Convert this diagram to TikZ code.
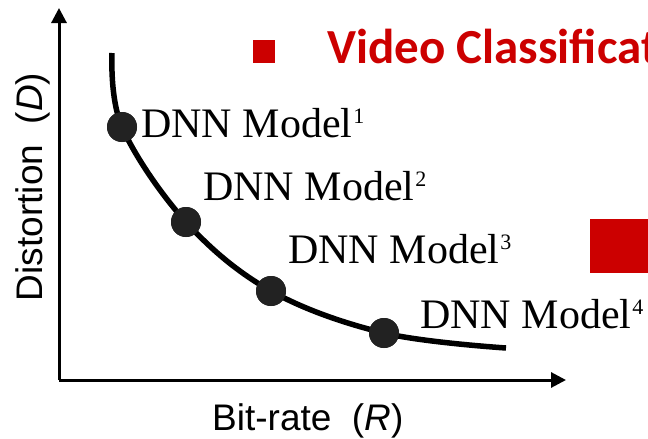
\documentclass[tikz,border=0pt]{standalone}
\usepackage{fontspec}
\setmainfont{Liberation Serif}
\newfontfamily\arialf{Liberation Sans}
\newfontfamily\calibf{Carlito}
\usetikzlibrary{arrows.meta}
\definecolor{pptred}{HTML}{CC0000}
\definecolor{dotgray}{HTML}{222222}
\newcommand{\dnnlabel}[1]{\fontsize{42}{42}\selectfont DNN Model\kern1pt\raisebox{14pt}{\fontsize{22}{22}\selectfont #1}}
\tikzset{
  axis/.style={line width=3pt, -{Triangle[length=15pt,width=15pt]}},
  curve/.style={line width=5.5pt},
  ptdot/.style={circle, fill=dotgray, minimum size=30pt, inner sep=0pt},
  modellabel/.style={anchor=base west, inner sep=0pt},
  axislabel/.style={inner sep=0pt, font=\arialf\fontsize{37}{37}\selectfont},
}
\begin{document}
\begin{tikzpicture}[x=1pt,y=-1pt]
\useasboundingbox (0,0) rectangle (648,439);
\clip (0,0) rectangle (648,439);
% axes
\coordinate (origin) at (59,380);
\coordinate (ytip) at (59,8);
\coordinate (xtip) at (566,380);
\draw[axis] (origin) -- (ytip);
\draw[axis] (origin) -- (xtip);
% curve
\coordinate (cstart) at (112,53);
\coordinate (cend) at (506,348);
\node[ptdot] (d1) at (122,127) {};
\node[ptdot] (d2) at (186,222) {};
\node[ptdot] (d3) at (271,291) {};
\node[ptdot] (d4) at (384,333) {};
\draw[curve] plot[smooth, tension=0.6] coordinates {(cstart) (d1.center) (d2.center) (d3.center) (d4.center) (cend)};
\foreach \n in {1,2,3,4} {\node[ptdot] at (d\n) {};}
% labels
\node[modellabel] (l1) at (141,137) {\dnnlabel{1}};
\node[modellabel] (l2) at (203,200) {\dnnlabel{2}};
\node[modellabel] (l3) at (288,263) {\dnnlabel{3}};
\node[modellabel] (l4) at (420,328) {\dnnlabel{4}};
% axis labels
\node[axislabel, anchor=base west] (xl) at (212,430) {Bit-rate\ \ (\textit{R})};
\node[axislabel, anchor=base, rotate=90] (yl) at (42,187) {Distortion\ \ (\textit{D})};
% red elements
\node[fill=pptred, minimum width=22pt, minimum height=23pt, inner sep=0pt, anchor=north west] (sq1) at (253,40) {};
\node[anchor=base west, inner sep=0pt, text=pptred, font=\calibf\bfseries\fontsize{49}{49}\selectfont] (title) at (327,63) {Video Classificat};
\node[fill=pptred, minimum width=60pt, minimum height=54pt, inner sep=0pt, anchor=north west] (sq2) at (590,219) {};
\end{tikzpicture}
\end{document}
